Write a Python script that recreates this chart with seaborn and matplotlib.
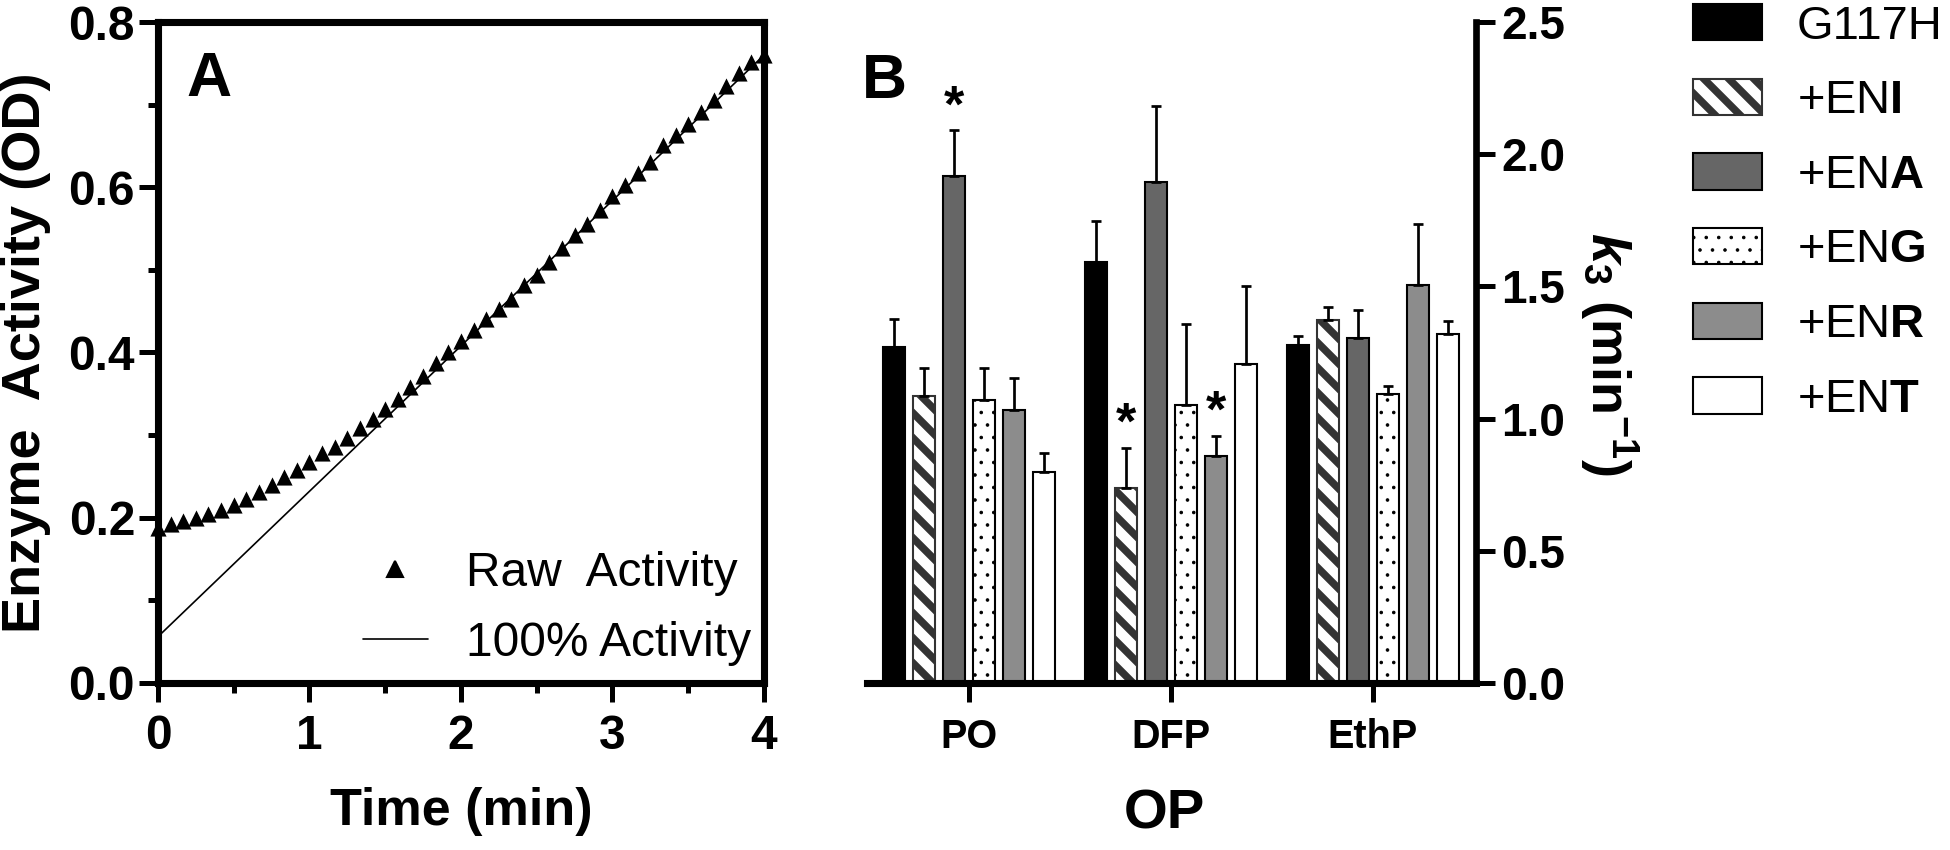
import numpy as np
import pandas as pd
import matplotlib
matplotlib.use("Agg")
import matplotlib.pyplot as plt
from matplotlib.lines import Line2D
from matplotlib.ticker import MultipleLocator, FormatStrFormatter
import seaborn as sns

# ---- panel A: raw enzyme activity, one read every 5 s ----
time_s = [0, 5, 10, 15, 20, 25, 30, 35, 40, 45, 50, 55, 60, 65, 70, 75, 80,
          85, 90, 95, 100, 105, 110, 115, 120, 125, 130, 135, 140, 145, 150,
          155, 160, 165, 170, 175, 180, 185, 190, 195, 200, 205, 210, 215,
          220, 225, 230, 235, 240]
raw_od = [0.188, 0.192, 0.196, 0.200, 0.205, 0.209, 0.216, 0.223, 0.231,
          0.240, 0.249, 0.258, 0.267, 0.278, 0.286, 0.297, 0.309, 0.320,
          0.332, 0.344, 0.358, 0.372, 0.387, 0.400, 0.414, 0.427, 0.440,
          0.453, 0.465, 0.482, 0.494, 0.510, 0.526, 0.542, 0.556, 0.572,
          0.590, 0.603, 0.617, 0.631, 0.651, 0.663, 0.677, 0.691, 0.706,
          0.722, 0.738, 0.752, 0.760]
line_t = [0, 4]
line_od = [0.056, 0.760]

# ---- panel B: k3 per OP ----
ops = ["PO", "DFP", "EthP"]
enzymes = ["G117H", "+ENI", "+ENA", "+ENG", "+ENR", "+ENT"]
legend_labels = ["G117H", "+EN$\\mathbf{I}$", "+EN$\\mathbf{A}$",
                 "+EN$\\mathbf{G}$", "+EN$\\mathbf{R}$", "+EN$\\mathbf{T}$"]
k3_po = [1.272, 1.084, 1.916, 1.072, 1.031, 0.798]
k3_dfp = [1.593, 0.736, 1.896, 1.051, 0.857, 1.207]
k3_ethp = [1.278, 1.374, 1.303, 1.092, 1.507, 1.319]
sd_po = [0.106, 0.106, 0.174, 0.118, 0.124, 0.073]
sd_dfp = [0.155, 0.152, 0.286, 0.307, 0.078, 0.294]
sd_ethp = [0.035, 0.047, 0.108, 0.031, 0.229, 0.051]
stars = [("PO", "+ENA"), ("DFP", "+ENI"), ("DFP", "+ENR")]

fill_colors = {"G117H": "#000000", "+ENI": "#ffffff", "+ENA": "#666666",
               "+ENG": "#ffffff", "+ENR": "#8c8c8c", "+ENT": "#ffffff"}

sns.set_style("ticks")
plt.rcParams["font.family"] = ["Liberation Sans", "DejaVu Sans"]
plt.rcParams["mathtext.fontset"] = "custom"
plt.rcParams["mathtext.rm"] = "Liberation Sans"
plt.rcParams["mathtext.bf"] = "Liberation Sans:bold"
plt.rcParams["mathtext.it"] = "Liberation Sans:italic:bold"
plt.rcParams["hatch.linewidth"] = 3.6
for key in ["text.color", "axes.labelcolor", "xtick.color", "ytick.color", "axes.edgecolor"]:
    plt.rcParams[key] = "black"

hatch_lw = {"\\\\": 3.6, "..": 0.5}

fig = plt.figure(figsize=(13, 850 / 150), dpi=150)
axA = fig.add_axes([0.0810, 0.1965, 0.3108, 0.7776])
axB = fig.add_axes([0.4446, 0.1965, 0.3123, 0.7776])

# ---- panel A ----
dfA = pd.DataFrame({"t": np.array(time_s) / 60, "od": raw_od})
sns.lineplot(x=line_t, y=line_od, color="black", linewidth=0.8, ax=axA)
sns.scatterplot(data=dfA, x="t", y="od", marker="^", s=60, color="black",
                edgecolor="black", linewidth=0, clip_on=False, zorder=3, ax=axA)
axA.set_xlim(0, 4)
axA.set_ylim(0, 0.8)
axA.xaxis.set_major_locator(MultipleLocator(1))
axA.xaxis.set_minor_locator(MultipleLocator(0.5))
axA.yaxis.set_major_locator(MultipleLocator(0.2))
axA.yaxis.set_minor_locator(MultipleLocator(0.1))
axA.yaxis.set_major_formatter(FormatStrFormatter("%.1f"))
for sp in axA.spines.values():
    sp.set_linewidth(3.4)
axA.tick_params(which="major", direction="out", length=9, width=2.4, labelsize=23)
axA.tick_params(which="minor", direction="out", length=4.8, width=2.4)
axA.tick_params(axis="x", which="major", pad=6)
axA.tick_params(axis="y", which="major", pad=2)
for lab in axA.get_xticklabels() + axA.get_yticklabels():
    lab.set_fontweight("bold")
axA.set_xlabel("Time (min)", fontsize=25, fontweight="bold")
axA.xaxis.set_label_coords(0.5, -0.157)
axA.set_ylabel("Enzyme  Activity (OD)", fontsize=26, fontweight="bold")
axA.yaxis.set_label_coords(-0.177, 0.5)

handles_a = [Line2D([], [], marker="^", color="black", linestyle="none", markersize=7.7),
             Line2D([], [], color="black", linewidth=0.8)]
axA.legend(handles_a, ["Raw  Activity", "100% Activity"], loc="upper left",
           bbox_to_anchor=(363 / 1950, 1 - 551 / 850), bbox_transform=fig.transFigure,
           frameon=False, borderpad=0, borderaxespad=0, handlelength=1.35,
           handletextpad=0.81, labelspacing=0.52, fontsize=23)

# ---- panel B ----
dfB = pd.DataFrame({
    "op": np.repeat(ops, len(enzymes)),
    "enzyme": enzymes * len(ops),
    "k3": k3_po + k3_dfp + k3_ethp,
    "sd": sd_po + sd_dfp + sd_ethp,
})
sns.barplot(data=dfB, x="op", y="k3", hue="enzyme", order=ops, hue_order=enzymes,
            palette=fill_colors, saturation=1, width=0.89, gap=0.27,
            edgecolor="black", linewidth=1.0, errorbar=None, legend=False, ax=axB)

bar_containers = list(axB.containers)
sd_lookup = dfB.set_index(["op", "enzyme"])["sd"]
tops = {}
for i, cont in enumerate(bar_containers):
    enz = enzymes[i]
    xs, hs, errs = [], [], []
    for j, p in enumerate(cont.patches):
        if enz == "+ENI":
            p.set_edgecolor("#333333")
            p.set_hatch("\\\\")
        elif enz == "+ENG":
            p.set_hatch("..")
        if p.get_hatch() and hasattr(p, "set_hatch_linewidth"):
            p.set_hatch_linewidth(hatch_lw[p.get_hatch()])
        x = p.get_x() + p.get_width() / 2
        h = p.get_height()
        e = sd_lookup[(ops[j], enz)]
        xs.append(x)
        hs.append(h)
        errs.append(e)
        tops[(ops[j], enz)] = (x, h + e)
    axB.errorbar(xs, hs, yerr=[np.zeros(len(errs)), errs], fmt="none", ecolor="black",
                 elinewidth=1.3, capsize=2.4, capthick=1.3, zorder=4)

for op, enz in stars:
    x, top = tops[(op, enz)]
    axB.text(x, top + 0.035, "*", ha="center", va="baseline", fontsize=25,
             fontweight="bold")

axB.set_xlim(-0.505, 2.51)
axB.set_ylim(0, 2.5)
axB.yaxis.tick_right()
axB.yaxis.set_label_position("right")
axB.yaxis.set_major_locator(MultipleLocator(0.5))
axB.yaxis.set_major_formatter(FormatStrFormatter("%.1f"))
axB.spines["left"].set_visible(False)
axB.spines["top"].set_visible(False)
axB.spines["right"].set_linewidth(3.2)
axB.spines["bottom"].set_linewidth(3.4)
axB.tick_params(axis="y", direction="out", length=9, width=2.4, labelsize=22, pad=3)
axB.tick_params(axis="x", direction="out", length=9, width=2.4, labelsize=19, pad=8)
for lab in axB.get_xticklabels() + axB.get_yticklabels():
    lab.set_fontweight("bold")
axB.set_xlabel("OP", fontsize=27, fontweight="bold")
axB.xaxis.set_label_coords(0.489, -0.159)
axB.set_ylabel(r"$\mathit{k}_{\mathbf{3}}$ (min$^{\mathbf{-1}}$)", fontsize=26,
               fontweight="bold", rotation=270, va="center", ha="center")
axB.yaxis.set_label_coords(1.218, 0.498)

legB = fig.legend([c.patches[0] for c in bar_containers], legend_labels, loc="upper left",
                  bbox_to_anchor=(1693 / 1950, 1 - 4 / 850), frameon=False, borderpad=0,
                  borderaxespad=0, handlelength=1.47, handleheight=0.81,
                  handletextpad=0.74, labelspacing=0.64, fontsize=22.6)
for h in legB.legend_handles:
    hatch = h.get_hatch()
    if hatch and hasattr(h, "set_hatch_linewidth"):
        h.set_hatch_linewidth(hatch_lw[hatch])

fig.text(209 / 1950, 1 - 80 / 850, "A", ha="center", va="center", fontsize=30,
         fontweight="bold")
fig.text(884 / 1950, 1 - 81 / 850, "B", ha="center", va="center", fontsize=30,
         fontweight="bold")

fig.savefig("out.png", dpi=150)
